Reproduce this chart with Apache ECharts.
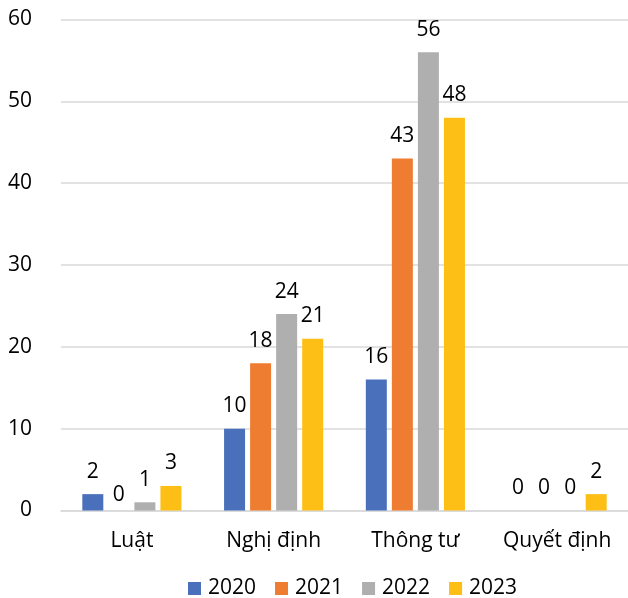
<!DOCTYPE html>
<html>
<head>
<meta charset="utf-8">
<script src="https://cdn.jsdelivr.net/npm/echarts@6/dist/echarts.min.js"></script>
<style>
  html, body { margin: 0; padding: 0; background: #fff; }
  #chart { width: 628px; height: 598px; }
</style>
</head>
<body>
<div id="chart"></div>
<script>
// Document types and yearly counts
const categories = ['Luật', 'Nghị định', 'Thông tư', 'Quyết định'];
const years = ['2020', '2021', '2022', '2023'];
const values2020 = [2, 10, 16, 0];
const values2021 = [0, 18, 43, 0];
const values2022 = [1, 24, 56, 0];
const values2023 = [3, 21, 48, 2];
const yTicks = { min: 0, max: 60, interval: 10 };

const colors = ['#4a70bb', '#ee7d31', '#afafaf', '#fdbe15'];
const seriesValues = [values2020, values2021, values2022, values2023];
const fontFamily = '"Open Sans", "Noto Sans", sans-serif';
const fontSize = 21;

// The lone zero label in the first group sits closer to the axis
function itemsFor(values, seriesIndex) {
  return values.map((v, ci) =>
    (seriesIndex === 1 && ci === 0)
      ? { value: v, label: { distance: 5 } }
      : v
  );
}

const chart = echarts.init(document.getElementById('chart'));
chart.setOption({
  animation: false,
  textStyle: { fontFamily: fontFamily },
  grid: { left: 61, width: 572, top: 19.5, bottom: 87.5 },
  legend: {
    data: years,
    top: 573,
    left: 183,
    itemWidth: 13,
    itemHeight: 13,
    itemGap: 19,
    icon: 'rect',
    textStyle: { fontSize: fontSize, color: '#000', fontFamily: fontFamily, padding: [0, 0, 0, 2] }
  },
  xAxis: {
    type: 'category',
    data: categories,
    axisLine: { show: true, lineStyle: { color: '#d9d9d9', width: 1.5 } },
    axisTick: { show: false },
    axisLabel: { fontSize: fontSize, color: '#000', margin: 20, fontFamily: fontFamily }
  },
  yAxis: {
    type: 'value',
    min: yTicks.min,
    max: yTicks.max,
    interval: yTicks.interval,
    axisLine: { show: false },
    axisTick: { show: false },
    splitLine: { lineStyle: { color: '#d9d9d9', width: 1.5 } },
    axisLabel: { fontSize: fontSize, color: '#000', margin: 29, fontFamily: fontFamily }
  },
  series: years.map((y, i) => ({
    name: y,
    type: 'bar',
    data: itemsFor(seriesValues[i], i),
    barWidth: 21,
    barGap: '24%',
    itemStyle: { color: colors[i] },
    label: {
      show: true,
      position: 'top',
      distance: 12,
      fontSize: fontSize,
      color: '#000',
      fontFamily: fontFamily
    }
  }))
});
</script>
</body>
</html>
